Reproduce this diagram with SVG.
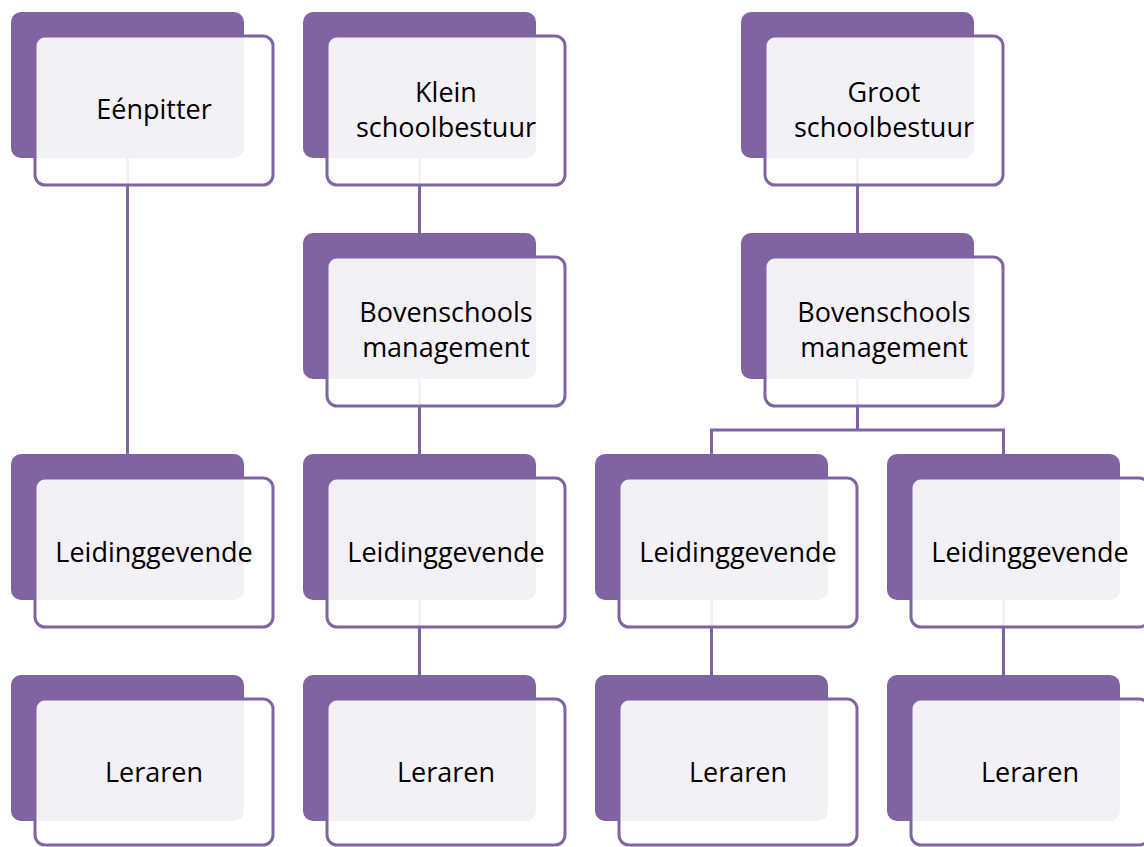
<svg xmlns="http://www.w3.org/2000/svg" width="1144" height="847" viewBox="0 0 1144 847">
<defs>
<style>
.back{fill:#8064a2}
.front{fill:#ffffff;fill-opacity:0.9;stroke:#8064a2;stroke-width:3}
.lbl{font-family:"Open Sans","Liberation Sans",sans-serif;font-size:27px;fill:#000;text-anchor:middle}
.conn{stroke:#8064a2;stroke-width:3;fill:none}
</style>
</defs>
<rect width="1144" height="847" fill="#ffffff"/>
<g id="connectors">
<line class="conn" x1="127.5" y1="150" x2="127.5" y2="460"/>
<line class="conn" x1="419.5" y1="150" x2="419.5" y2="240"/>
<line class="conn" x1="419.5" y1="370" x2="419.5" y2="460"/>
<line class="conn" x1="419.5" y1="600" x2="419.5" y2="680"/>
<line class="conn" x1="857.5" y1="150" x2="857.5" y2="240"/>
<path class="conn" d="M857.5 370 V430 M711.5 455 V430 H1003.5 V455"/>
<line class="conn" x1="711.5" y1="600" x2="711.5" y2="680"/>
<line class="conn" x1="1003.5" y1="600" x2="1003.5" y2="680"/>
</g>
<g id="n-eenpitter">
<rect class="back" x="11" y="12" width="233" height="146" rx="10"/>
<rect class="front" x="35" y="36" width="238" height="149" rx="10"/>
<text class="lbl" x="154" y="119">Eénpitter</text>
</g>
<g id="n-klein">
<rect class="back" x="303" y="12" width="233" height="146" rx="10"/>
<rect class="front" x="327" y="36" width="238" height="149" rx="10"/>
<text class="lbl" x="446" y="102">Klein</text>
<text class="lbl" x="446" y="137">schoolbestuur</text>
</g>
<g id="n-groot">
<rect class="back" x="741" y="12" width="233" height="146" rx="10"/>
<rect class="front" x="765" y="36" width="238" height="149" rx="10"/>
<text class="lbl" x="884" y="102">Groot</text>
<text class="lbl" x="884" y="137">schoolbestuur</text>
</g>
<g id="n-bovenschools-1">
<rect class="back" x="303" y="233" width="233" height="146" rx="10"/>
<rect class="front" x="327" y="257" width="238" height="149" rx="10"/>
<text class="lbl" x="446" y="322">Bovenschools</text>
<text class="lbl" x="446" y="357">management</text>
</g>
<g id="n-bovenschools-2">
<rect class="back" x="741" y="233" width="233" height="146" rx="10"/>
<rect class="front" x="765" y="257" width="238" height="149" rx="10"/>
<text class="lbl" x="884" y="322">Bovenschools</text>
<text class="lbl" x="884" y="357">management</text>
</g>
<g id="n-leiding-1">
<rect class="back" x="11" y="454" width="233" height="146" rx="10"/>
<rect class="front" x="35" y="478" width="238" height="149" rx="10"/>
<text class="lbl" x="154" y="562">Leidinggevende</text>
</g>
<g id="n-leiding-2">
<rect class="back" x="303" y="454" width="233" height="146" rx="10"/>
<rect class="front" x="327" y="478" width="238" height="149" rx="10"/>
<text class="lbl" x="446" y="562">Leidinggevende</text>
</g>
<g id="n-leiding-3">
<rect class="back" x="595" y="454" width="233" height="146" rx="10"/>
<rect class="front" x="619" y="478" width="238" height="149" rx="10"/>
<text class="lbl" x="738" y="562">Leidinggevende</text>
</g>
<g id="n-leiding-4">
<rect class="back" x="887" y="454" width="233" height="146" rx="10"/>
<rect class="front" x="911" y="478" width="238" height="149" rx="10"/>
<text class="lbl" x="1030" y="562">Leidinggevende</text>
</g>
<g id="n-leraren-1">
<rect class="back" x="11" y="675" width="233" height="146" rx="10"/>
<rect class="front" x="35" y="699" width="238" height="146" rx="10"/>
<text class="lbl" x="154" y="782">Leraren</text>
</g>
<g id="n-leraren-2">
<rect class="back" x="303" y="675" width="233" height="146" rx="10"/>
<rect class="front" x="327" y="699" width="238" height="146" rx="10"/>
<text class="lbl" x="446" y="782">Leraren</text>
</g>
<g id="n-leraren-3">
<rect class="back" x="595" y="675" width="233" height="146" rx="10"/>
<rect class="front" x="619" y="699" width="238" height="146" rx="10"/>
<text class="lbl" x="738" y="782">Leraren</text>
</g>
<g id="n-leraren-4">
<rect class="back" x="887" y="675" width="233" height="146" rx="10"/>
<rect class="front" x="911" y="699" width="238" height="146" rx="10"/>
<text class="lbl" x="1030" y="782">Leraren</text>
</g>
</svg>
